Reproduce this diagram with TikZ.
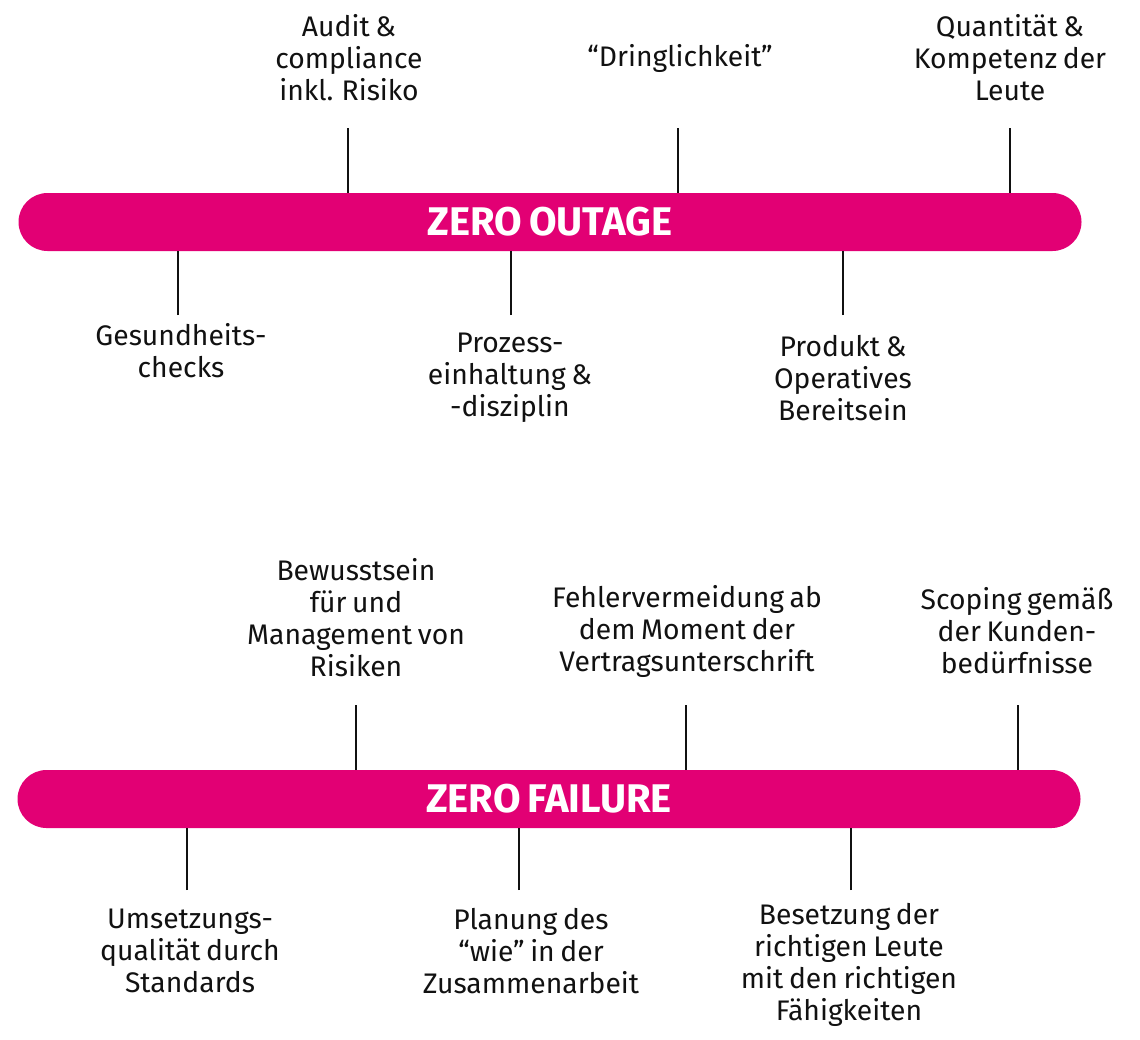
\documentclass[tikz,border=0pt]{standalone}
\usepackage{fontspec}
\setmainfont{Fira Sans}[WordSpace=0.75]
\definecolor{tmagenta}{HTML}{E20074}
\definecolor{ink}{HTML}{111111}
\begin{document}
\begin{tikzpicture}[x=1pt,y=-1pt,
  bar/.style={rectangle, rounded corners=29pt, fill=tmagenta, minimum width=1063pt, minimum height=58pt, inner sep=0pt,
    text=white, font=\fontsize{40}{44}\selectfont\bfseries},
  lbl/.style={align=center, inner sep=0pt, text=ink, font=\fontsize{28.3}{32}\selectfont},
  tick/.style={draw=ink, line width=1.7pt}]
\useasboundingbox (0,0) rectangle (1140,1039);

% ---- ZERO OUTAGE ----
\node[bar] (bar1) at (550,222) {ZERO OUTAGE};
\coordinate (a1) at (348,128);
\coordinate (a2) at (678,128);
\coordinate (a3) at (1010,128);
\coordinate (b1) at (178,315);
\coordinate (b2) at (511,315);
\coordinate (b3) at (843,315);
\draw[tick] (a1) -- (a1 |- bar1.north);
\draw[tick] (a2) -- (a2 |- bar1.north);
\draw[tick] (a3) -- (a3 |- bar1.north);
\draw[tick] (b1) -- (b1 |- bar1.south);
\draw[tick] (b2) -- (b2 |- bar1.south);
\draw[tick] (b3) -- (b3 |- bar1.south);

\node[lbl] (la1) at (349,58) {Audit \&\\compliance\\inkl. Risiko};
\node[lbl] (la2) at (680,58) {“Dringlichkeit”};
\node[lbl] (la3) at (1010,58) {Quantität \&\\Kompetenz der\\Leute};
\node[lbl] (lb1) at (181,351) {Gesundheits-\\checks};
\node[lbl] (lb2) at (510,378) {Prozess-\\einhaltung \&\\-disziplin};
\node[lbl] (lb3) at (843,378) {Produkt \&\\Operatives\\Bereitsein};

% ---- ZERO FAILURE ----
\node[bar] (bar2) at (549,799) {ZERO FAILURE};
\coordinate (c1) at (356,705);
\coordinate (c2) at (686,705);
\coordinate (c3) at (1018,705);
\coordinate (d1) at (187,890);
\coordinate (d2) at (519,890);
\coordinate (d3) at (851,890);
\draw[tick] (c1) -- (c1 |- bar2.north);
\draw[tick] (c2) -- (c2 |- bar2.north);
\draw[tick] (c3) -- (c3 |- bar2.north);
\draw[tick] (d1) -- (d1 |- bar2.south);
\draw[tick] (d2) -- (d2 |- bar2.south);
\draw[tick] (d3) -- (d3 |- bar2.south);

\node[lbl] (lc1) at (356,618) {Bewusstsein\\für und\\Management von\\Risiken};
\node[lbl] (lc2) at (687,631) {Fehlervermeidung ab\\dem Moment der\\Vertragsunterschrift};
\node[lbl] (lc3) at (1017,631) {Scoping gemäß\\der Kunden-\\bedürfnisse};
\node[lbl] (ld1) at (190,951) {Umsetzungs-\\qualität durch\\Standards};
\node[lbl] (ld2) at (531,951) {Planung des\\“wie” in der\\Zusammenarbeit};
\node[lbl] (ld3) at (849,965) {Besetzung der\\richtigen Leute\\mit den richtigen\\Fähigkeiten};
\end{tikzpicture}
\end{document}
